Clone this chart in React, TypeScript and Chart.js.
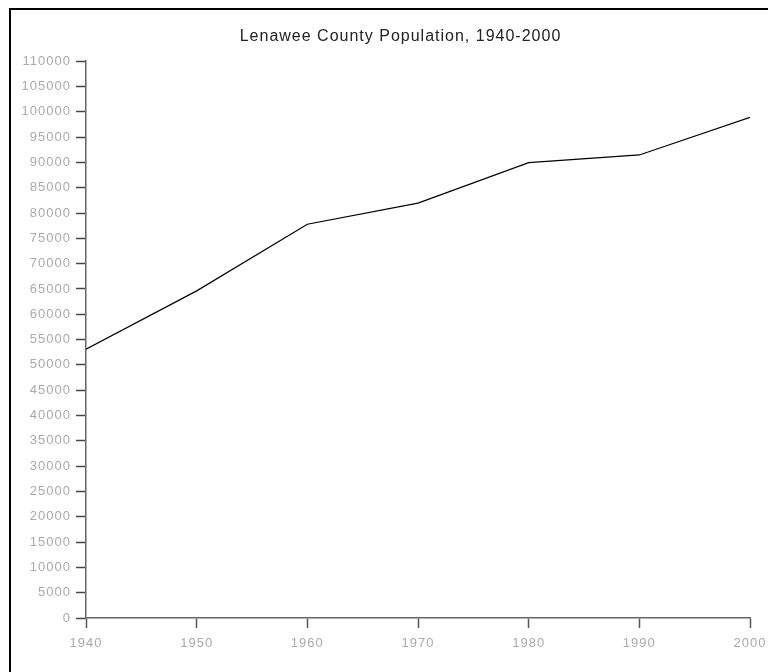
import React, { useEffect, useRef } from "react";
import { Chart, registerables } from "chart.js";

Chart.register(...registerables);

const years = [1940, 1950, 1960, 1970, 1980, 1990, 2000];
const population = [53110, 64629, 77789, 81951, 89948, 91476, 98890];
const titleText = "Lenawee County Population, 1940-2000";
const yMin = 0;
const yMax = 110000;
const yStep = 5000;
const xMin = 1940;
const xMax = 2000;
const xStep = 10;

const FONT = "'Liberation Sans', Arial, sans-serif";
const CANVAS_W = 801;
const CANVAS_H = 672;

const spacingPlugin = {
  id: "spacing",
  beforeUpdate(chart: any) {
    chart.ctx.letterSpacing = "1px";
  },
  beforeLayout(chart: any) {
    chart.ctx.letterSpacing = "1px";
  },
  beforeDraw(chart: any) {
    chart.ctx.letterSpacing = "1px";
  },
};

export default function App() {
  const ref = useRef<HTMLCanvasElement>(null);

  useEffect(() => {
    document.body.style.overflow = "hidden";
    const ctx = ref.current!.getContext("2d")!;
    const chart = new Chart(ctx, {
      type: "line",
      data: {
        datasets: [
          {
            label: "Population",
            data: years.map((y, i) => ({ x: y, y: population[i] })),
            borderColor: "#000000",
            borderWidth: 1.2,
            pointRadius: 0,
            tension: 0,
            fill: false,
          },
        ],
      },
      plugins: [spacingPlugin],
      options: {
        responsive: false,
        animation: false,
        layout: { padding: 0 },
        plugins: {
          legend: { display: false },
          tooltip: { enabled: false },
          title: {
            display: true,
            text: titleText,
            color: "#222222",
            font: { family: FONT, size: 16, weight: "normal", lineHeight: 1.2 },
            padding: { top: 26.5, bottom: 15.5 },
          },
        },
        scales: {
          x: {
            type: "linear",
            min: xMin,
            max: xMax,
            afterFit: (s: any) => {
              s.height = 54;
              s.paddingLeft = 0;
              s.paddingRight = 51;
            },
            ticks: {
              stepSize: xStep,
              color: "#aaaaaa",
              padding: 8,
              maxRotation: 0,
              font: { family: FONT, size: 13 },
              callback: (v: any) => String(v),
            },
            grid: {
              drawOnChartArea: false,
              drawTicks: true,
              tickLength: 10,
              tickColor: "#555555",
              tickWidth: 1.5,
            },
            border: { display: true, color: "#666666", width: 1.5 },
          },
          y: {
            type: "linear",
            min: yMin,
            max: yMax,
            afterFit: (s: any) => {
              s.width = 86;
            },
            ticks: {
              stepSize: yStep,
              color: "#aaaaaa",
              padding: 5,
              autoSkip: false,
              font: { family: FONT, size: 13 },
              callback: (v: any) => String(v),
            },
            grid: {
              drawOnChartArea: false,
              drawTicks: true,
              tickLength: 10,
              tickColor: "#444444",
              tickWidth: 1.5,
            },
            border: { display: true, color: "#666666", width: 1.5 },
          },
        },
      },
    });
    return () => chart.destroy();
  }, []);

  return (
    <div>
      <div
        style={{
          position: "fixed",
          left: 9,
          top: 8,
          width: 759,
          height: 1.5,
          background: "#000",
          pointerEvents: "none",
        }}
      />
      <div
        style={{
          position: "fixed",
          left: 9,
          top: 8,
          width: 1.5,
          height: 664,
          background: "#000",
          pointerEvents: "none",
        }}
      />
      <canvas
        ref={ref}
        width={CANVAS_W}
        height={CANVAS_H}
        style={{ position: "fixed", left: 0, top: 0, width: CANVAS_W, height: CANVAS_H }}
      />
    </div>
  );
}
